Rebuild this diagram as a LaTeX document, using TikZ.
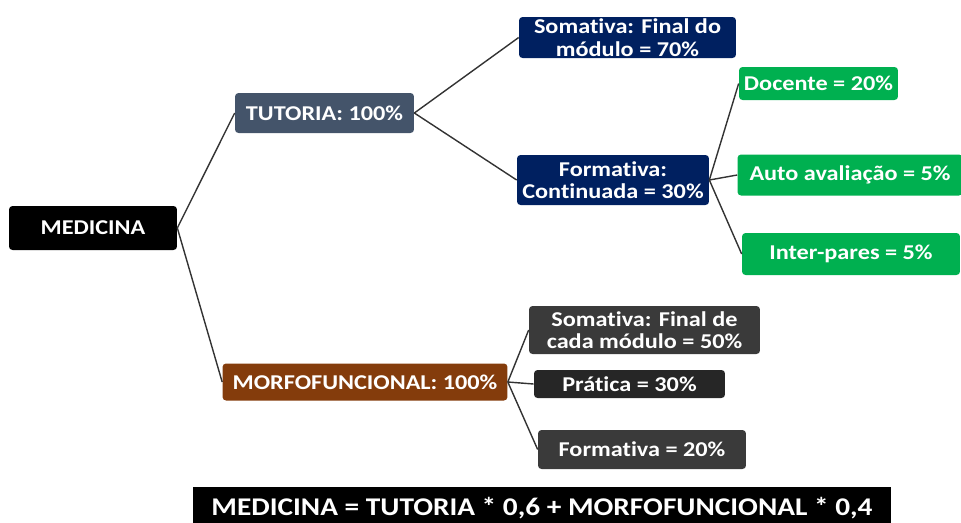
\documentclass[tikz,border=0pt]{standalone}
\usepackage{fontspec}
\setmainfont{Carlito}[FakeStretch=1.15, Ligatures=NoCommon]
\definecolor{slate}{HTML}{44546A}
\definecolor{navy}{HTML}{002060}
\definecolor{leaf}{HTML}{00B050}
\definecolor{rust}{HTML}{843C0C}
\definecolor{coal}{HTML}{3A3A3A}
\definecolor{ink}{HTML}{262626}
\begin{document}
\begin{tikzpicture}[x=0.02cm, y=-0.02cm,
  every node/.style={font=\fontsize{12}{12.8}\selectfont\bfseries, text=white, align=center, inner sep=0pt, rounded corners=2pt},
  link/.style={line width=0.8pt, black!80}]
  \useasboundingbox (0,0) rectangle (961,522);
  % tree of nodes
  \node[fill=black, minimum width=3.36cm, minimum height=0.88cm] (med) at (93,228) {MEDICINA};
  \node[fill=slate, minimum width=3.58cm, minimum height=0.80cm] (tut) at (324.5,113) {TUTORIA: 100\%};
  \node[fill=rust, minimum width=5.70cm, minimum height=0.74cm] (morfo) at (365,382) {MORFOFUNCIONAL: 100\%};
  \node[fill=navy, minimum width=4.34cm, minimum height=0.82cm] (som70) at (627.5,37.5) {Somativa: Final do\\módulo = 70\%};
  \node[fill=navy, minimum width=3.84cm, minimum height=1.00cm] (form30) at (613,180) {Formativa:\\Continuada = 30\%};
  \node[fill=leaf, minimum width=3.18cm, minimum height=0.66cm] (doc) at (818.5,83.5) {Docente = 20\%};
  \node[fill=leaf, minimum width=4.50cm, minimum height=0.82cm] (auto) at (850,175) {Auto avaliação = 5\%};
  \node[fill=leaf, minimum width=4.36cm, minimum height=0.84cm] (inter) at (851,254) {Inter-pares = 5\%};
  \node[fill=coal, minimum width=4.62cm, minimum height=0.96cm] (som50) at (644.5,330) {Somativa: Final de\\cada módulo = 50\%};
  \node[fill=ink, minimum width=3.82cm, minimum height=0.56cm] (prat) at (629.5,384) {Prática = 30\%};
  \node[fill=coal, minimum width=4.16cm, minimum height=0.78cm] (form20) at (642,449.5) {Formativa = 20\%};
  % formula
  \node[fill=black, rounded corners=0pt, minimum width=13.96cm, minimum height=0.84cm, font=\fontsize{14.5}{16}\selectfont\bfseries] (formula) at (542,508) {MEDICINA = TUTORIA * 0,6 + MORFOFUNCIONAL * 0,4};
  % connectors
  \draw[link] (med.east) -- (tut.west);
  \draw[link] (med.east) -- (morfo.west);
  \draw[link] (tut.east) -- (som70.west);
  \draw[link] (tut.east) -- (form30.west);
  \draw[link] (form30.east) -- (doc.west);
  \draw[link] (form30.east) -- (auto.west);
  \draw[link] (form30.east) -- (inter.west);
  \draw[link] (morfo.east) -- (som50.west);
  \draw[link] (morfo.east) -- (prat.west);
  \draw[link] (morfo.east) -- (form20.west);
\end{tikzpicture}
\end{document}
